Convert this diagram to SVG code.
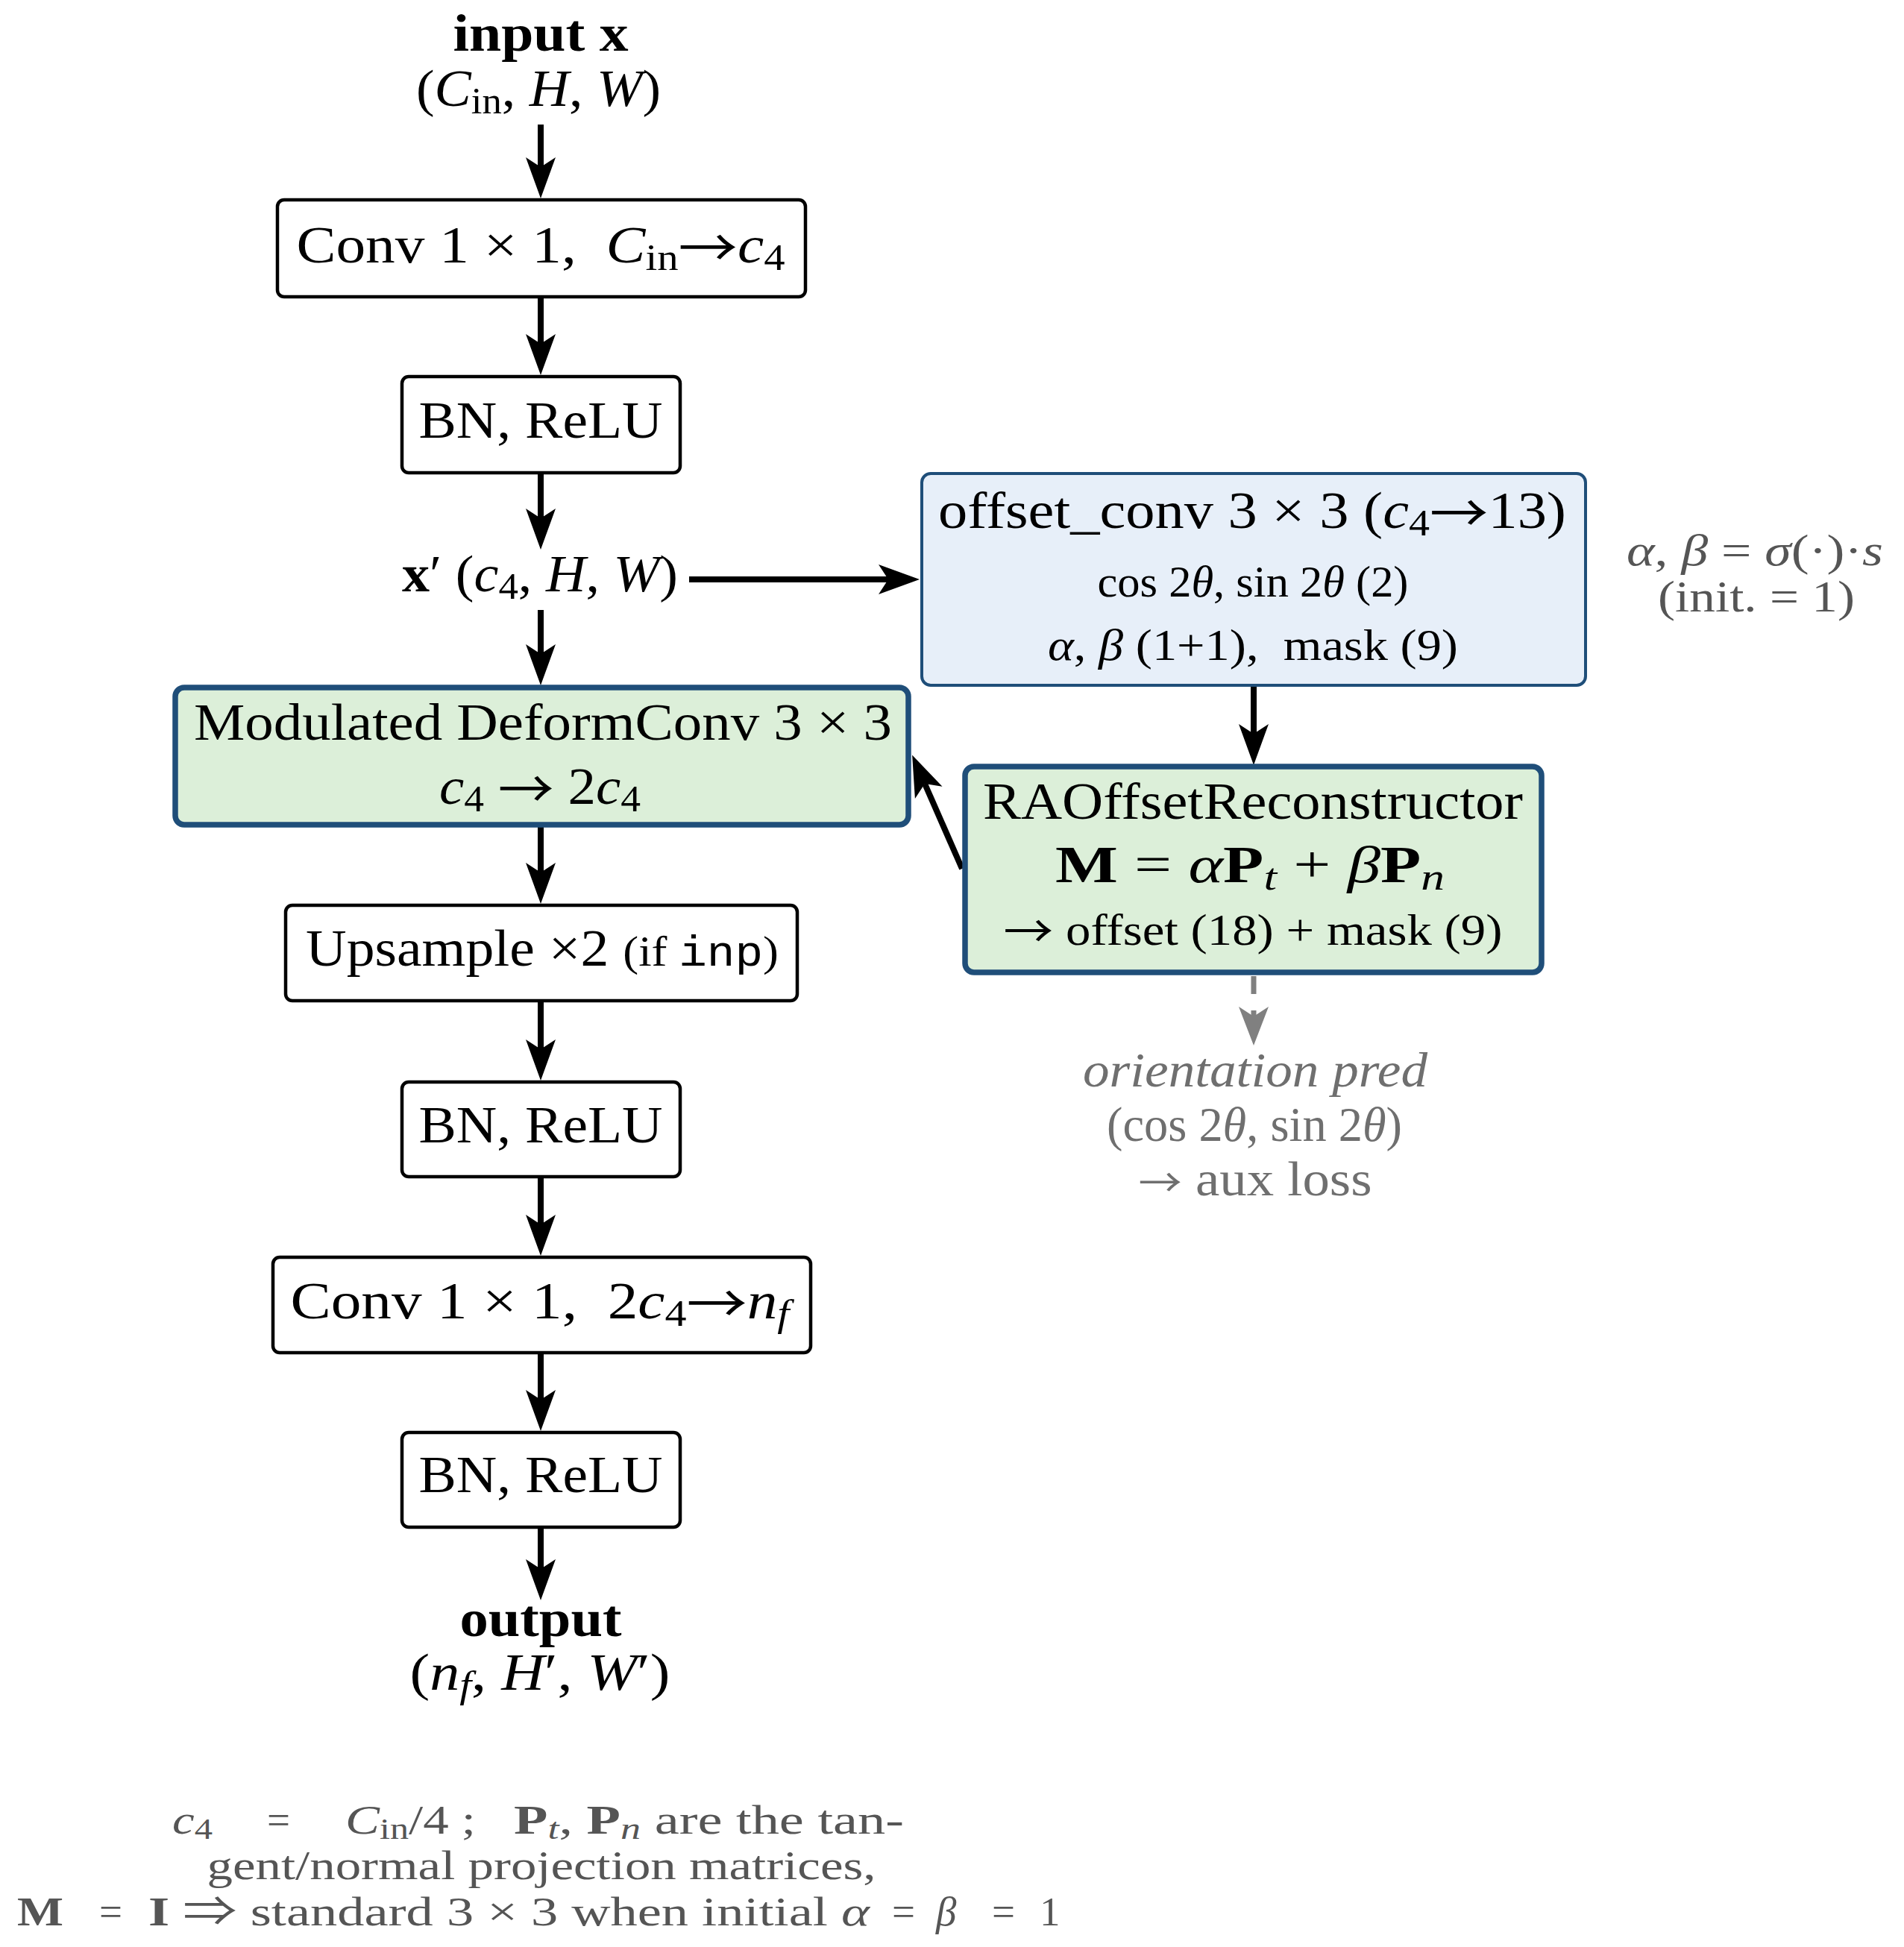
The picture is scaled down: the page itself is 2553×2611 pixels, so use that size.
<svg xmlns="http://www.w3.org/2000/svg" width="2553" height="2611" viewBox="0 0 2553 2611">
<defs>
<style>
text { font-family: "Liberation Serif", "DejaVu Serif", serif; fill: #000; }
.m { font-size: 70px; }
.s { font-size: 60px; }
.o { font-size: 65px; }
.f { font-size: 55px; }
.i { font-style: italic; }
.b { font-weight: bold; }
.tt { font-family: "Liberation Mono", "DejaVu Sans Mono", monospace; }
.ar { font-family: "Noto Sans CJK JP", "DejaVu Sans", sans-serif; font-weight: normal; font-style: normal; }
.sub { font-size: 50px; }
.ssub { font-size: 40px; }
.box { fill: #ffffff; stroke: #000000; stroke-width: 4.5; }
.green { fill: #dcefd9; stroke: #1f4e79; stroke-width: 7.5; }
.blue { fill: #e7eff9; stroke: #1f4e79; stroke-width: 4; }
.arr { stroke: #000000; stroke-width: 8; fill: none; marker-end: url(#ah); }
.dash { stroke: #808080; stroke-width: 7; stroke-dasharray: 24 22; fill: none; marker-end: url(#ahg); }
.gray { fill: #555555; }
.lgray { fill: #6f6f6f; }
</style>
<marker id="ah" markerUnits="userSpaceOnUse" viewBox="0 -22 58 44" markerWidth="58" markerHeight="44" refX="13" refY="0" orient="auto">
<path d="M0,-20 L55,0 L0,20 L13,0 Z" fill="#000000"/>
</marker>
<marker id="ahg" markerUnits="userSpaceOnUse" viewBox="0 -22 58 44" markerWidth="58" markerHeight="44" refX="13" refY="0" orient="auto">
<path d="M0,-20 L52,0 L0,20 L13,0 Z" fill="#808080"/>
</marker>
</defs>
<rect x="0" y="0" width="2553" height="2611" fill="#ffffff"/>

<g id="connectors">
<line class="arr" x1="725" y1="167" x2="725" y2="224"/>
<line class="arr" x1="725" y1="400" x2="725" y2="461"/>
<line class="arr" x1="725" y1="635" x2="725" y2="695"/>
<line class="arr" x1="725" y1="818" x2="725" y2="877"/>
<line class="arr" x1="725" y1="1109" x2="725" y2="1170"/>
<line class="arr" x1="725" y1="1344" x2="725" y2="1407"/>
<line class="arr" x1="725" y1="1580" x2="725" y2="1642"/>
<line class="arr" x1="725" y1="1816" x2="725" y2="1877"/>
<line class="arr" x1="725" y1="2050" x2="725" y2="2104"/>
<line class="arr" x1="924" y1="777" x2="1191" y2="777"/>
<line class="arr" x1="1681" y1="921" x2="1681" y2="984"/>
<line class="arr" x1="1290" y1="1165" x2="1240" y2="1051"/>
<line class="dash" x1="1681" y1="1309" x2="1681" y2="1363"/>
</g>

<g id="input">
<text class="m b" x="725" y="68" text-anchor="middle" textLength="235" lengthAdjust="spacingAndGlyphs">input x</text>
<text class="m" x="722" y="142" text-anchor="middle" textLength="328" lengthAdjust="spacingAndGlyphs">(<tspan class="i">C</tspan><tspan class="sub" dy="10">in</tspan><tspan dy="-10">, </tspan><tspan class="i">H</tspan>, <tspan class="i">W</tspan>)</text>
</g>

<g id="conv1">
<rect class="box" x="372" y="268" width="708" height="130" rx="9"/>
<text class="m" x="725" y="352" text-anchor="middle" textLength="655" lengthAdjust="spacingAndGlyphs">Conv 1 × 1,&#160; <tspan class="i">C</tspan><tspan class="sub" dy="10">in</tspan><tspan class="ar" dy="-4">→</tspan><tspan class="i" dy="-6">c</tspan><tspan class="sub" dy="10">4</tspan></text>
</g>

<g id="bn1">
<rect class="box" x="539" y="505" width="373" height="129" rx="9"/>
<text class="m" x="725" y="587" text-anchor="middle" textLength="327" lengthAdjust="spacingAndGlyphs">BN, ReLU</text>
</g>

<g id="xprime">
<text class="m" x="724" y="793" text-anchor="middle" textLength="370" lengthAdjust="spacingAndGlyphs"><tspan class="b">x</tspan>′ (<tspan class="i">c</tspan><tspan class="sub" dy="10">4</tspan><tspan dy="-10">, </tspan><tspan class="i">H</tspan>, <tspan class="i">W</tspan>)</text>
</g>

<g id="mdconv">
<rect class="green" x="235" y="922" width="983" height="184" rx="12"/>
<text class="m" x="728" y="992" text-anchor="middle" textLength="936" lengthAdjust="spacingAndGlyphs">Modulated DeformConv 3 × 3</text>
<text class="m" x="724" y="1078" text-anchor="middle" textLength="270" lengthAdjust="spacingAndGlyphs"><tspan class="i">c</tspan><tspan class="sub" dy="10">4</tspan><tspan dy="-10"> </tspan><tspan class="ar" dy="6">→</tspan><tspan dy="-6"> 2</tspan><tspan class="i">c</tspan><tspan class="sub" dy="10">4</tspan></text>
</g>

<g id="upsample">
<rect class="box" x="383" y="1214" width="686" height="128" rx="9"/>
<text class="m" x="727" y="1295" text-anchor="middle" textLength="634" lengthAdjust="spacingAndGlyphs">Upsample ×2 <tspan font-size="58">(if </tspan><tspan class="tt" font-size="58">inp</tspan><tspan font-size="58">)</tspan></text>
</g>

<g id="bn2">
<rect class="box" x="539" y="1451" width="373" height="127" rx="9"/>
<text class="m" x="725" y="1532" text-anchor="middle" textLength="327" lengthAdjust="spacingAndGlyphs">BN, ReLU</text>
</g>

<g id="conv2">
<rect class="box" x="366" y="1686" width="721" height="128" rx="9"/>
<text class="m" x="724" y="1768" text-anchor="middle" textLength="669" lengthAdjust="spacingAndGlyphs">Conv 1 × 1,&#160; 2<tspan class="i">c</tspan><tspan class="sub" dy="10">4</tspan><tspan class="ar" dy="-4">→</tspan><tspan class="i" dy="-6">n</tspan><tspan class="sub i" dy="10">f</tspan></text>
</g>

<g id="bn3">
<rect class="box" x="539" y="1921" width="373" height="127" rx="9"/>
<text class="m" x="725" y="2001" text-anchor="middle" textLength="327" lengthAdjust="spacingAndGlyphs">BN, ReLU</text>
</g>

<g id="output">
<text class="m b" x="725" y="2194" text-anchor="middle" textLength="217" lengthAdjust="spacingAndGlyphs">output</text>
<text class="m" x="724" y="2266" text-anchor="middle" textLength="349" lengthAdjust="spacingAndGlyphs">(<tspan class="i">n</tspan><tspan class="sub i" dy="10">f</tspan><tspan dy="-10">, </tspan><tspan class="i">H</tspan>′, <tspan class="i">W</tspan>′)</text>
</g>

<g id="offset_conv">
<rect class="blue" x="1236" y="635" width="890" height="284" rx="12"/>
<text class="m" x="1679" y="708" text-anchor="middle" textLength="842" lengthAdjust="spacingAndGlyphs">offset_conv 3 × 3 (<tspan class="i">c</tspan><tspan class="sub" dy="10">4</tspan><tspan class="ar" dy="-4">→</tspan><tspan dy="-6">13)</tspan></text>
<text class="s" x="1680" y="800" text-anchor="middle" textLength="417" lengthAdjust="spacingAndGlyphs">cos 2<tspan class="i">θ</tspan>, sin 2<tspan class="i">θ</tspan> (2)</text>
<text class="s" x="1680" y="885" text-anchor="middle" textLength="550" lengthAdjust="spacingAndGlyphs"><tspan class="i">α</tspan>, <tspan class="i">β</tspan> (1+1),&#160; mask (9)</text>
</g>

<g id="annotation">
<text class="s gray" x="2353" y="758" text-anchor="middle" textLength="344" lengthAdjust="spacingAndGlyphs"><tspan class="i">α</tspan>, <tspan class="i">β</tspan> = <tspan class="i">σ</tspan>(·)·<tspan class="i">s</tspan></text>
<text class="s gray" x="2355" y="820" text-anchor="middle" textLength="264" lengthAdjust="spacingAndGlyphs">(init. = 1)</text>
</g>

<g id="raoffset">
<rect class="green" x="1294" y="1028" width="773" height="276" rx="12"/>
<text class="m" x="1680" y="1098" text-anchor="middle" textLength="724" lengthAdjust="spacingAndGlyphs">RAOffsetReconstructor</text>
<text class="m" x="1676" y="1183" text-anchor="middle" textLength="522" lengthAdjust="spacingAndGlyphs"><tspan class="b">M</tspan> = <tspan class="i">α</tspan><tspan class="b">P</tspan><tspan class="sub i" dy="10">t</tspan><tspan dy="-10"> + </tspan><tspan class="i">β</tspan><tspan class="b">P</tspan><tspan class="sub i" dy="10">n</tspan></text>
<text class="s" x="1680" y="1267" text-anchor="middle" textLength="669" lengthAdjust="spacingAndGlyphs"><tspan class="ar" dy="4">→</tspan><tspan dy="-4"> offset (18) + mask (9)</tspan></text>
</g>

<g id="orientation">
<text class="o i lgray" x="1683" y="1457" text-anchor="middle" textLength="462" lengthAdjust="spacingAndGlyphs">orientation pred</text>
<text class="o lgray" x="1682" y="1530" text-anchor="middle" textLength="396" lengthAdjust="spacingAndGlyphs">(cos 2<tspan class="i">θ</tspan>, sin 2<tspan class="i">θ</tspan>)</text>
<text class="o lgray" x="1683" y="1603" text-anchor="middle" textLength="313" lengthAdjust="spacingAndGlyphs"><tspan class="ar" font-size="52" dy="2">→</tspan><tspan dy="-2"> aux loss</tspan></text>
</g>

<g id="footer">
<text class="f gray" x="231" y="2459" textLength="54" lengthAdjust="spacingAndGlyphs"><tspan class="i">c</tspan><tspan class="ssub" dy="7">4</tspan></text>
<text class="f gray" x="358" y="2459">=</text>
<text class="f gray" x="463" y="2459" textLength="175" lengthAdjust="spacingAndGlyphs"><tspan class="i">C</tspan><tspan class="ssub" dy="7">in</tspan><tspan dy="-7">/4 ;</tspan></text>
<text class="f gray" x="689" y="2459" textLength="523" lengthAdjust="spacingAndGlyphs"><tspan class="b">P</tspan><tspan class="ssub i" dy="7">t</tspan><tspan dy="-7">, </tspan><tspan class="b">P</tspan><tspan class="ssub i" dy="7">n</tspan><tspan dy="-7"> are the tan-</tspan></text>
<text class="f gray" x="726" y="2520" text-anchor="middle" textLength="897" lengthAdjust="spacingAndGlyphs">gent/normal projection matrices,</text>
<text class="f gray b" x="23" y="2582" textLength="62" lengthAdjust="spacingAndGlyphs">M</text>
<text class="f gray" x="133" y="2582">=</text>
<text class="f gray" x="199" y="2582" textLength="967" lengthAdjust="spacingAndGlyphs"><tspan class="b">I</tspan> <tspan class="ar">⇒</tspan> standard 3 × 3 when initial <tspan class="i">α</tspan></text>
<text class="f gray" x="1196" y="2582">=</text>
<text class="f gray i" x="1255" y="2582">β</text>
<text class="f gray" x="1330" y="2582">=</text>
<text class="f gray" x="1394" y="2582">1</text>
</g>
</svg>
